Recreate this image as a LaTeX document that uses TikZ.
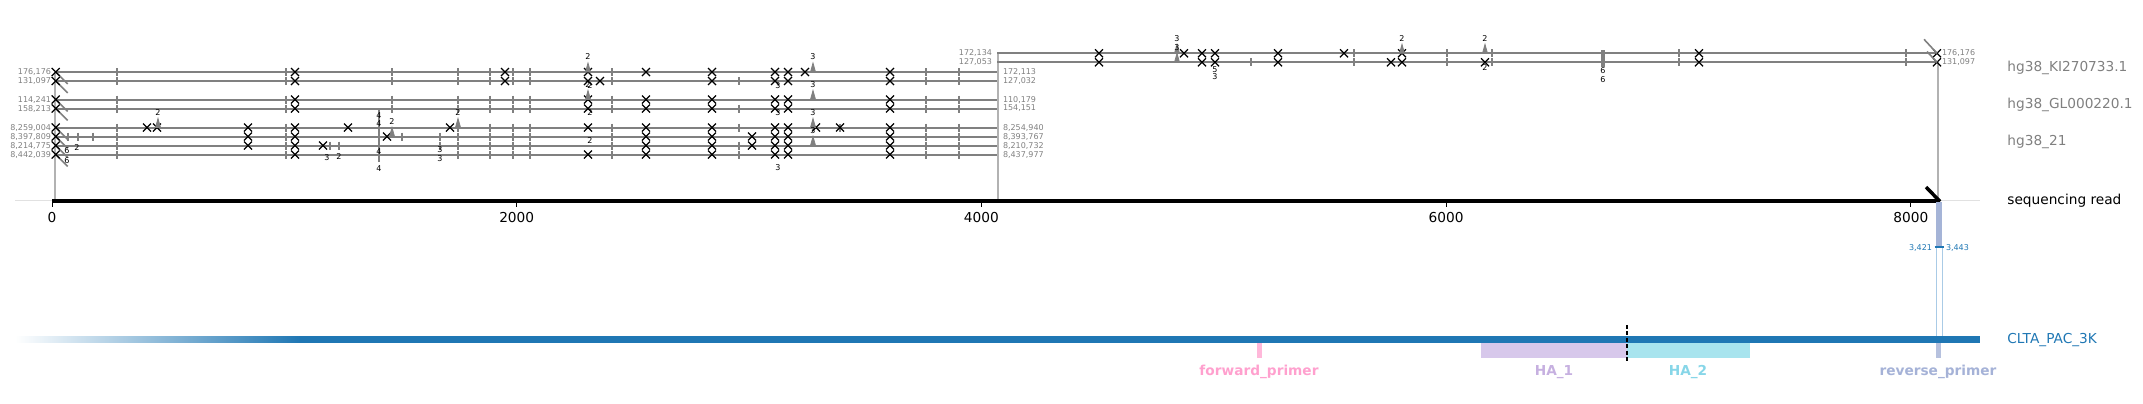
\documentclass[tikz,border=0pt]{standalone}
\usepackage{fontspec}
\setmainfont{DejaVu Sans}
\definecolor{alg}{RGB}{128,128,128}
\definecolor{vlcol}{RGB}{178,178,178}
\definecolor{axgray}{RGB}{225,225,225}
\definecolor{tabblue}{RGB}{31,119,180}
\definecolor{fpfill}{RGB}{255,184,218}
\definecolor{fptext}{RGB}{255,160,206}
\definecolor{hafill}{RGB}{215,200,235}
\definecolor{hatext}{RGB}{198,176,224}
\definecolor{hbfill}{RGB}{168,228,238}
\definecolor{hbtext}{RGB}{135,214,232}
\definecolor{rpfill}{RGB}{182,193,222}
\definecolor{rptext}{RGB}{165,178,215}
\definecolor{spanfill}{RGB}{165,180,215}
\definecolor{spanline}{RGB}{170,203,230}
\newcommand\xm[2]{\draw[xmk] (#1,#2) ++(-4,-4) -- ++(8,8) ++(-8,0) -- ++(8,-8);}
\newcommand\tk[2]{\draw[tkm] (#1,#2) ++(0,-4) -- ++(0,8);}
\newcommand\pk[3]{\filldraw[draw=alg,fill=alg,line width=0.4pt,line join=miter] (#1,#2) ++(-2.5,0) -- ++(2.5,-9) -- ++(2.5,9) -- cycle; \node[num] at (#1,#2-15) {#3};}
\newcommand\nb[3]{\node[num] at (#1,#2) {#3};}
\newcommand\cutmk[1]{\draw[tkm,line width=0.8pt] (55.7,#1) -- ++(12,12);}
\begin{document}
\begin{tikzpicture}[x=0.5pt,y=-0.5pt,
  aln/.style={draw=alg,line width=1pt},
  vln/.style={draw=vlcol,line width=0.75pt},
  xmk/.style={draw=black,line width=0.65pt},
  tkm/.style={draw=alg,line width=1.1pt},
  coord/.style={font=\fontsize{4}{4.5}\selectfont,text=alg,inner sep=0.3pt},
  num/.style={font=\fontsize{4}{4.5}\selectfont,text=black,inner sep=0pt},
  big/.style={font=\fontsize{6.85}{8}\selectfont,inner sep=0pt,anchor=west},
  ticklab/.style={font=\fontsize{6.85}{8}\selectfont,inner sep=0pt},
  feat/.style={font=\bfseries\fontsize{6.85}{8}\selectfont,inner sep=0pt},
  bluelab/.style={font=\fontsize{4}{4.5}\selectfont,text=tabblue,inner sep=0.3pt}]
\useasboundingbox (0,0) rectangle (2143,403);

% vertical connector lines
\draw[vln] (55.2,72) -- (55.2,201);
\draw[vln] (998,53.3) -- (998,201);
\draw[vln] (1938,62.3) -- (1938,201);

% alignment lines, left segments
\foreach \y in {72,81,99.5,108.5,127.5,136.5,145.5,154.5}{
  \draw[aln] (55.7,\y) -- (997,\y);
  \cutmk{\y}
  \xm{55.7}{\y}
  \foreach \t in {116.7,286,458,490,513,530,612,926,959}{\tk{\t}{\y}}
  \foreach \t in {295,712,775,788,890}{\xm{\t}{\y}}
}
% right segments
\foreach \y in {53.3,62.3}{
  \draw[aln] (997,\y) -- (1937,\y);
  \foreach \t in {1354,1447,1492,1679,1906}{\tk{\t}{\y}}
  \foreach \t in {1099,1202,1215,1278,1402,1699,1937}{\xm{\t}{\y}}
}
\draw[tkm,line width=0.8pt] (1924,39.3) -- (1937,53.3);
\draw[tkm,line width=0.8pt] (1927,51.5) -- (1937,62.3);

% extra ticks
\foreach \y in {81,108.5,127.5,145.5,154.5}{\tk{739}{\y}}
\foreach \y in {72,81,99.5,108.5}{\tk{391.7}{\y}}
\foreach \t in {68,78,93,402,440}{\tk{\t}{136.5}}
\foreach \t in {330,339,440}{\tk{\t}{145.5}}
\tk{379}{127.5}\tk{379}{154.5}
\draw[tkm,line width=0.75pt] (379,108) -- (379,162);
\tk{840}{127.5}
\tk{1251}{62.3}
\draw[draw=alg,line width=2pt] (1603,50) -- (1603,67);

% extra mismatches
\foreach \y in {72,99.5,108.5,127.5,136.5,145.5,154.5}{\xm{646}{\y}}
\foreach \y in {72,81,99.5,108.5,127.5,154.5}{\xm{588}{\y}}
\xm{505}{72}\xm{505}{81}\xm{600}{81}\xm{805}{72}
\foreach \t in {147,157,248,348,450,816,840}{\xm{\t}{127.5}}
\foreach \t in {248,387,752}{\xm{\t}{136.5}}
\foreach \t in {248,323,752}{\xm{\t}{145.5}}
\xm{1184}{53.3}\xm{1344}{53.3}\xm{1391}{62.3}\xm{1485}{62.3}

% insertion peaks
\pk{588}{72}{2}\pk{588}{99.5}{2}\pk{813}{72}{3}\pk{813}{99.5}{3}
\pk{813}{127.5}{3}\pk{813}{145.5}{3}\pk{158}{127.5}{2}\pk{458}{127.5}{2}
\pk{392}{136.5}{2}\pk{1177}{53.3}{3}\pk{1177}{62.3}{3}
\pk{1402}{53.3}{2}\pk{1485}{53.3}{2}

% small numbers below
\nb{67}{151}{6}\nb{67}{161}{6}\nb{77}{148}{2}
\nb{327}{158}{3}\nb{339}{157}{2}
\nb{379}{116}{4}\nb{379}{124}{4}\nb{379}{152}{4}\nb{379}{169}{4}
\nb{440}{150}{3}\nb{440}{159}{3}
\nb{590}{86}{2}\nb{590}{113}{2}\nb{590}{141}{2}
\nb{778}{86}{3}\nb{778}{113}{3}\nb{778}{168}{3}
\nb{1215}{70}{5}\nb{1215}{77}{3}\nb{1485}{68}{2}
\nb{1603}{71}{6}\nb{1603}{80}{6}

% coordinate labels
\node[coord,anchor=east] (s1) at (52,72) {176,176};
\node[coord,anchor=east] (s2) at (52,81) {131,097};
\node[coord,anchor=east] (s3) at (52,99.5) {114,241};
\node[coord,anchor=east] (s4) at (52,108.5) {158,213};
\node[coord,anchor=east] (s5) at (52,127.5) {8,259,004};
\node[coord,anchor=east] (s6) at (52,136.5) {8,397,809};
\node[coord,anchor=east] (s7) at (52,145.5) {8,214,775};
\node[coord,anchor=east] (s8) at (52,154.5) {8,442,039};
\node[coord,anchor=west] (e1) at (1002,72) {172,113};
\node[coord,anchor=west] (e2) at (1002,81) {127,032};
\node[coord,anchor=west] (e3) at (1002,99.5) {110,179};
\node[coord,anchor=west] (e4) at (1002,108.5) {154,151};
\node[coord,anchor=west] (e5) at (1002,127.5) {8,254,940};
\node[coord,anchor=west] (e6) at (1002,136.5) {8,393,767};
\node[coord,anchor=west] (e7) at (1002,145.5) {8,210,732};
\node[coord,anchor=west] (e8) at (1002,154.5) {8,437,977};
\node[coord,anchor=east] (r1s) at (993,53.3) {172,134};
\node[coord,anchor=east] (r2s) at (993,62.3) {127,053};
\node[coord,anchor=west] (r1e) at (1941,53.3) {176,176};
\node[coord,anchor=west] (r2e) at (1941,62.3) {131,097};

% reference labels
\node[big,text=alg] (lki) at (2007,67.7) {hg38\_KI270733.1};
\node[big,text=alg] (lgl) at (2007,104.7) {hg38\_GL000220.1};
\node[big,text=alg] (l21) at (2007,141.7) {hg38\_21};
\node[big,text=black] (lread) at (2007,201) {sequencing read};
\node[big,text=tabblue] (lclta) at (2007,340) {CLTA\_PAC\_3K};

% read axis
\draw[draw=axgray,line width=0.5pt] (15,200) -- (1980,200);
\draw[black,line width=1.75pt] (52,201) -- (1939,201);
\draw[black,line width=1.75pt] (1926,187) -- (1940,201.5);
\foreach \xx/\lab in {52/0,516.7/2000,981.4/4000,1446.1/6000,1910.8/8000}{
  \draw[black,line width=0.5pt] (\xx,202) -- (\xx,207);
  \node[ticklab] (t\lab) at (\xx,218) {\lab};
}

% span to the donor
\fill[spanfill] (1936,202) rectangle (1942,246.7);
\draw[spanline,line width=0.5pt] (1936,246.7) -- (1936,336) (1942,246.7) -- (1942,336);
\draw[tabblue,line width=1pt] (1934.5,246.7) -- (1943.5,246.7);
\node[bluelab,anchor=east] (b1) at (1933,248) {3,421};
\node[bluelab,anchor=west] (b2) at (1945,248) {3,443};

% donor bar
\shade[left color=white,right color=tabblue] (15,336) rectangle (300,342.7);
\fill[tabblue] (299.5,336) rectangle (1980,342.7);
\fill[fpfill] (1256.5,342.7) rectangle (1261.5,357.7);
\fill[hafill] (1481,342.7) rectangle (1627,357.7);
\fill[hbfill] (1627,342.7) rectangle (1750,357.7);
\fill[rpfill] (1935.5,342.7) rectangle (1940.5,357.7);
\draw[black,line width=0.6pt,dash pattern=on 2pt off 1.2pt] (1627,325) -- (1627,363);
\node[feat,text=fptext] (fp) at (1259,372) {forward\_primer};
\node[feat,text=hatext] (ha1) at (1554,372) {HA\_1};
\node[feat,text=hbtext] (ha2) at (1688,372) {HA\_2};
\node[feat,text=rptext] (rp) at (1938,372) {reverse\_primer};
\end{tikzpicture}
\end{document}
